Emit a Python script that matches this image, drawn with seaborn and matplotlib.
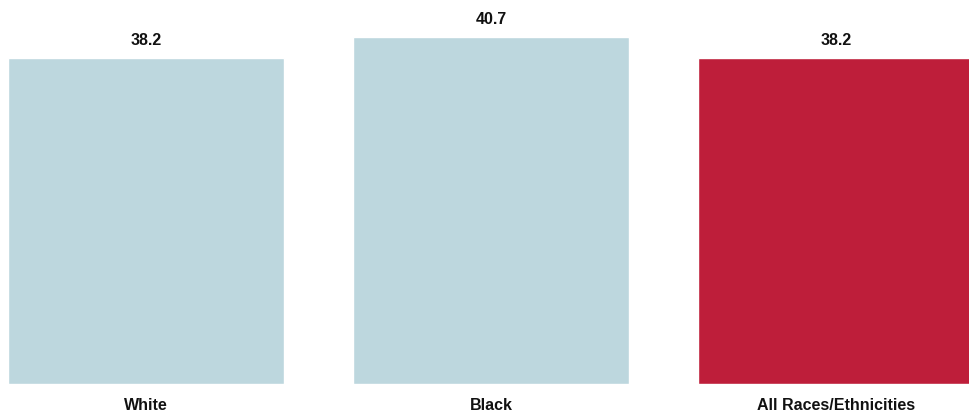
import matplotlib
matplotlib.use("Agg")
import matplotlib.pyplot as plt
import seaborn as sns
import pandas as pd
from matplotlib import font_manager

categories = ["White", "Black", "All Races/Ethnicities"]
values = [38.2, 40.7, 38.2]
colors = ["#BDD7DE", "#BDD7DE", "#BE1E3A"]

sns.set_style("white")
names = {f.name for f in font_manager.fontManager.ttflist}
narrow = "Liberation Sans Narrow" in names
fam = ["Liberation Sans Narrow", "Liberation Sans", "DejaVu Sans"] if narrow else ["Liberation Sans", "DejaVu Sans"]
plt.rcParams["font.family"] = fam

df = pd.DataFrame({"cat": categories, "val": values})

fig = plt.figure(figsize=(9.7, 4.18), dpi=100)
ax = fig.add_axes([0, 34 / 418, 1, 384 / 418])
sns.barplot(data=df, x="cat", y="val", hue="cat", palette=dict(zip(categories, colors)),
            legend=False, width=0.8, saturation=1, ax=ax)
ax.set_xlim(-0.4 - 8 / 345, -0.4 - 8 / 345 + 970 / 345)
ax.set_ylim(0, 45)
fs = 12.5 if narrow else 11.5
for i, v in enumerate(values):
    ax.annotate(f"{v:.1f}", (i, v), xytext=(0, 10), textcoords="offset pixels",
                ha="center", va="bottom", fontsize=fs, fontweight="bold", color="#111111")
    ax.annotate(categories[i], (i, 0), xytext=(0, -22), textcoords="offset pixels",
                ha="center", va="center", fontsize=fs, fontweight="bold", color="#111111",
                annotation_clip=False)
ax.set_xticks([])
ax.set_yticks([])
ax.set_xlabel("")
ax.set_ylabel("")
for s in ax.spines.values():
    s.set_visible(False)
fig.savefig("out.png", dpi=100)
